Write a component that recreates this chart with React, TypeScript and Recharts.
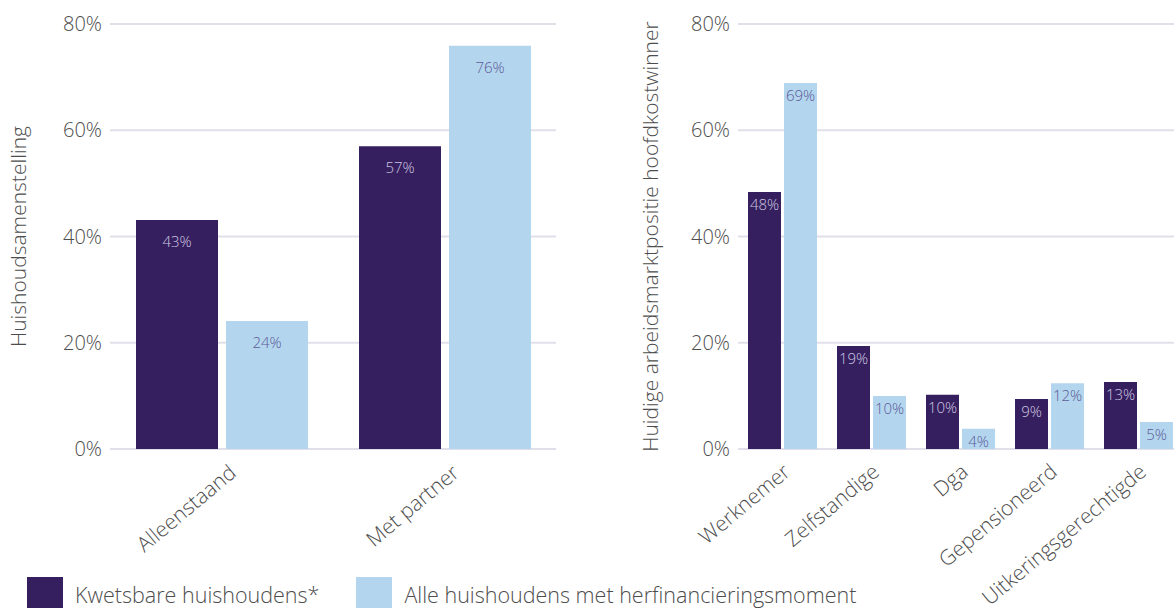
import React from 'react';
import { BarChart, Bar, XAxis, YAxis, CartesianGrid, LabelList } from 'recharts';

const seriesNames = ['Kwetsbare huishoudens*', 'Alle huishoudens met herfinancieringsmoment'];
const colors = ['#361f5f', '#b3d6ee'];
const labelColors = ['#cdc7e0', '#5d5a98'];

const leftCategories = ['Alleenstaand', 'Met partner'];
const leftKwetsbaar = [43.1, 57.0];
const leftAlle = [24.1, 75.9];

const rightCategories = ['Werknemer', 'Zelfstandige', 'Dga', 'Gepensioneerd', 'Uitkeringsgerechtigde'];
const rightKwetsbaar = [48.4, 19.4, 10.2, 9.4, 12.6];
const rightAlle = [68.9, 10.0, 3.8, 12.4, 5.1];

const yTicks = [0, 20, 40, 60, 80];

const FONT = '"Open Sans", Lato, sans-serif';
const TEXT = '#4d4d4d';

const leftData = leftCategories.map((name, i) => ({ name, a: leftKwetsbaar[i], b: leftAlle[i] }));
const rightData = rightCategories.map((name, i) => ({ name, a: rightKwetsbaar[i], b: rightAlle[i] }));

const makeTick = (dx: number, dy: number) => (props: any) => {
  const { x, y, payload } = props;
  return (
    <text
      x={x + dx}
      y={y + dy}
      transform={`rotate(-40, ${x + dx}, ${y + dy})`}
      textAnchor="end"
      fontSize={21}
      fontWeight={300}
      fontFamily={FONT}
      fill={TEXT}
    >
      {payload.value}
    </text>
  );
};

const makeBarLabel = (color: string, offset: number) => (props: any) => {
  const { x, y, width, value } = props;
  return (
    <text
      x={x + width / 2}
      y={y + offset}
      textAnchor="middle"
      fontSize={15}
      fontWeight={300}
      fontFamily={FONT}
      fill={color}
    >
      {`${Math.round(value)}%`}
    </text>
  );
};

const makeYLabel = (text: string, x: number) => (props: any) => {
  const { viewBox } = props;
  const cy = viewBox.y + viewBox.height / 2;
  return (
    <text
      x={x}
      y={cy}
      transform={`rotate(-90, ${x}, ${cy})`}
      textAnchor="middle"
      fontSize={21}
      fontWeight={300}
      fontFamily={FONT}
      fill={TEXT}
    >
      {text}
    </text>
  );
};

const tickStyle = { fontSize: 20, fontWeight: 300, fontFamily: FONT, fill: TEXT };

function Panel({ data, width, yWidth, yLabel, yLabelX, tickDx, tickDy, labelOffset, barGap, catGap }: any) {
  return (
    <BarChart
      width={width}
      height={608}
      data={data}
      margin={{ top: 24, right: 0, bottom: 29, left: 0 }}
      barGap={barGap}
      barCategoryGap={catGap}
    >
      <CartesianGrid vertical={false} stroke="#e1e0ea" strokeWidth={2} />
      <XAxis
        dataKey="name"
        axisLine={false}
        tickLine={false}
        interval={0}
        height={130}
        tick={makeTick(tickDx, tickDy)}
      />
      <YAxis
        width={yWidth}
        domain={[0, 80]}
        ticks={yTicks}
        axisLine={false}
        tickLine={false}
        tickFormatter={(v: number) => `${v}%`}
        tick={tickStyle}
        label={{ content: makeYLabel(yLabel, yLabelX) }}
      />
      <Bar dataKey="a" name={seriesNames[0]} fill={colors[0]} isAnimationActive={false}>
        <LabelList dataKey="a" content={makeBarLabel(labelColors[0], labelOffset)} />
      </Bar>
      <Bar dataKey="b" name={seriesNames[1]} fill={colors[1]} isAnimationActive={false}>
        <LabelList dataKey="b" content={makeBarLabel(labelColors[1], labelOffset)} />
      </Bar>
    </BarChart>
  );
}

export default function App() {
  return (
    <div
      style={{
        position: 'absolute',
        left: 0,
        top: 0,
        width: 1174,
        height: 608,
        overflow: 'hidden',
        background: '#fff',
        fontFamily: FONT,
      }}
    >
      <div style={{ position: 'absolute', left: 0, top: 0 }}>
        <Panel
          data={leftData}
          width={556}
          yWidth={110}
          yLabel="Huishoudsamenstelling"
          yLabelX={26}
          tickDx={16}
          tickDy={18}
          labelOffset={27}
          barGap={8}
          catGap={26}
        />
      </div>
      <div style={{ position: 'absolute', left: 600, top: 0 }}>
        <Panel
          data={rightData}
          width={583}
          yWidth={138}
          yLabel="Huidige arbeidsmarktpositie hoofdkostwinner"
          yLabelX={58}
          tickDx={9}
          tickDy={17}
          labelOffset={18}
          barGap={3}
          catGap={10}
        />
      </div>
      <div
        style={{
          position: 'absolute',
          left: 27,
          top: 577,
          display: 'flex',
          alignItems: 'flex-start',
          fontSize: 21.5,
          fontWeight: 300,
          color: TEXT,
        }}
      >
        {seriesNames.map((n, i) => (
          <div key={n} style={{ display: 'flex', alignItems: 'flex-start', marginRight: 37 }}>
            <div style={{ width: 36, height: 36, background: colors[i], marginRight: 12 }} />
            <div style={{ lineHeight: '36px', marginTop: 0 }}>{n}</div>
          </div>
        ))}
      </div>
    </div>
  );
}
